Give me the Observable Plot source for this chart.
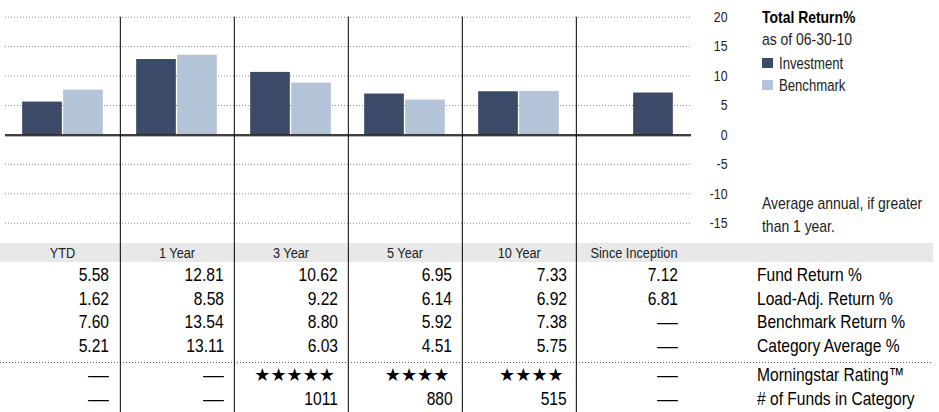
<!DOCTYPE html>
<html>
<head>
<meta charset="utf-8">
<script src="https://cdn.jsdelivr.net/npm/d3@7"></script>
<script src="https://cdn.jsdelivr.net/npm/@observablehq/plot@0.6"></script>
<style>
  body { margin: 0; background: #fff; }
  #wrap { position: relative; width: 939px; height: 412px; overflow: hidden;
          font-family: "Liberation Sans", Arial, sans-serif; color: #000; }
  #wrap .abs { position: absolute; white-space: nowrap; }
  #wrap .abs span { display: inline-block; transform: scaleX(0.82); }
  #chart { position: absolute; left: 0; top: 0; z-index: 2; }
  #table { position: absolute; left: 0; top: 0; width: 939px; height: 412px; z-index: 1; }
</style>
</head>
<body>
<div id="wrap"><div id="table"></div><div id="chart"></div></div>
<script>
// ---------- data ----------
const periods = ["YTD", "1 Year", "3 Year", "5 Year", "10 Year", "Since Inception"];
const fundReturn = [5.58, 12.81, 10.62, 6.95, 7.33, 7.12];
const loadAdjReturn = [1.62, 8.58, 9.22, 6.14, 6.92, 6.81];
const benchmarkReturn = [7.60, 13.54, 8.80, 5.92, 7.38, null];
const categoryAverage = [5.21, 13.11, 6.03, 4.51, 5.75, null];
const ratingStars = [null, null, 5, 4, 4, null];
const fundsInCategory = [null, null, 1011, 880, 515, null];
const rowLabels = ["Fund Return %", "Load-Adj. Return %", "Benchmark Return %", "Category Average %", "Morningstar Rating™", "# of Funds in Category"];
const seriesNames = ["Investment", "Benchmark"];
const seriesColors = ["#3b4a67", "#b3c3d8"];
const yTicks = [-15, -10, -5, 0, 5, 10, 15, 20];
const chartTitle = "Total Return%";
const asOf = "as of 06-30-10";
const footNote = ["Average annual, if greater", "than 1 year."];

// ---------- layout ----------
const W = 939, H = 412;
const xLeft = 5, xRight = 691;
const yTopPx = 16.7, yBotPx = 222.7;
const yMin = -15, yMax = 20;
const bw = (xRight - xLeft) / periods.length;
const pxPerUnit = (yBotPx - yTopPx) / (yMax - yMin);
const yBottomValue = yMin - (H - yBotPx) / pxPerUnit;
const NARROW = 0.82;

// bar records (slot 0 = left of centre, slot 1 = right of centre)
const bars = [];
periods.forEach((p, i) => {
  const hasBench = benchmarkReturn[i] != null;
  bars.push({period: p, series: "Investment", value: fundReturn[i], slot: hasBench ? 0 : 1});
  if (hasBench) bars.push({period: p, series: "Benchmark", value: benchmarkReturn[i], slot: 1});
});
const slotInsets = [
  {insetLeft: bw / 2 - 41, insetRight: bw / 2 + 1},
  {insetLeft: bw / 2, insetRight: bw / 2 - 40}
];

const chart = Plot.plot({
  width: W, height: H,
  marginLeft: xLeft, marginRight: W - xRight, marginTop: 0, marginBottom: 0,
  style: {background: "transparent", overflow: "visible", fontFamily: '"Liberation Sans", Arial, sans-serif'},
  x: {domain: periods, range: [xLeft, xRight], padding: 0, axis: null},
  y: {domain: [yMin, yMax], range: [yBotPx, yTopPx], axis: null},
  color: {domain: seriesNames, range: seriesColors},
  marks: [
    Plot.ruleY(yTicks.filter(d => d !== 0), {y: d => d, stroke: "#8a8a8a", strokeDasharray: "1,2"}),
    ...slotInsets.map((ins, s) => Plot.barY(bars.filter(d => d.slot === s), {
      x: "period", y: "value", fill: "series", ...ins
    })),
    Plot.ruleY([0], {y: d => d, stroke: "#b0b0b0", strokeWidth: 1, dy: 1.5}),
    Plot.ruleY([0], {y: d => d, stroke: "#000", strokeWidth: 1.5}),
    Plot.ruleX(periods.slice(1), {x: d => d, dx: -bw / 2, y1: yMax, y2: yBottomValue, stroke: "#000", strokeWidth: 1}),
    Plot.text(yTicks, {y: d => d, text: d => String(d), frameAnchor: "right", dx: 36, textAnchor: "end",
                       fontSize: 15, fill: "#222"})
  ]
});
document.getElementById("chart").appendChild(chart);
// condense the tick labels (no narrow font installed): scale the group about the labels' right edge
{
  const g = chart.querySelector('g[aria-label="text"]');
  if (g) {
    const bb = g.getBBox();
    const ax = bb.x + bb.width;
    const inner = document.createElementNS("http://www.w3.org/2000/svg", "g");
    while (g.firstChild) inner.appendChild(g.firstChild);
    g.appendChild(inner);
    inner.setAttribute("transform", `translate(${ax},0) scale(${NARROW},1) translate(${-ax},0)`);
  }
}

// ---------- legend / notes ----------
const T = document.getElementById("table");
function addText(txt, left, cy, size, opts = {}) {
  const lh = opts.lh || Math.round(size * 1.3);
  const d = document.createElement("div");
  d.className = "abs";
  const s = document.createElement("span");
  s.textContent = txt;
  d.appendChild(s);
  const align = opts.align || "left";
  s.style.transformOrigin = align === "right" ? "100% 50%" : align === "center" ? "50% 50%" : "0 50%";
  d.style.left = left + "px";
  d.style.top = (cy - lh / 2) + "px";
  d.style.fontSize = size + "px";
  d.style.lineHeight = lh + "px";
  if (opts.width != null) { d.style.width = opts.width + "px"; d.style.textAlign = align; }
  if (opts.bold) d.style.fontWeight = "bold";
  if (opts.color) d.style.color = opts.color;
  T.appendChild(d);
  return d;
}
function addBox(left, top, w, h, bg) {
  const d = document.createElement("div");
  d.className = "abs";
  Object.assign(d.style, {left: left + "px", top: top + "px", width: w + "px", height: h + "px", background: bg});
  T.appendChild(d);
  return d;
}
const legX = 762;
addText(chartTitle, legX, 18, 17, {bold: true});
addText(asOf, legX, 40, 17, {color: "#222"});
seriesNames.forEach((s, i) => {
  const cy = 63 + i * 22;
  addBox(legX, cy - 5, 11, 10, seriesColors[i]);
  addText(s, 779, cy, 16, {color: "#222"});
});
addText(footNote[0], legX, 204, 17, {color: "#222"});
addText(footNote[1], legX, 227, 17, {color: "#222"});

// ---------- table ----------
addBox(0, 243, 933, 19, "#e8e8e8");
periods.forEach((p, i) => addText(p, xLeft + i * bw, 252.5, 15.5, {width: bw, align: "center", lh: 19, color: "#222"}));

const fmt2 = v => v == null ? "—" : v.toFixed(2);
const rows = [
  fundReturn.map(fmt2),
  loadAdjReturn.map(fmt2),
  benchmarkReturn.map(fmt2),
  categoryAverage.map(fmt2),
  ratingStars.map(v => v == null ? "—" : "★".repeat(v)),
  fundsInCategory.map(v => v == null ? "—" : String(v))
];
const rowCenters = [275, 298.6, 322.2, 345.8, 375, 398.6];
rows.forEach((vals, r) => {
  vals.forEach((v, i) => {
    const pad = i === periods.length - 1 ? 13 : 10;
    const isStar = r === 4 && v !== "—";
    const el = addText(v, xLeft + i * bw, rowCenters[r], 19, {width: bw - pad, align: "right", lh: 24});
    if (isStar) { el.firstChild.style.transform = "none"; el.style.fontFamily = '"DejaVu Sans", sans-serif'; el.style.fontSize = "18px"; el.style.width = (bw - 13) + "px"; }
    else if (v === "—") { el.firstChild.style.transform = "scaleX(1.1)"; }
  });
  addText(rowLabels[r], 757, rowCenters[r], 19, {lh: 24});
});
const dots = addBox(0, 361.5, 933, 1, "transparent");
dots.style.background = "repeating-linear-gradient(to right, #555 0 1px, transparent 1px 3px)";
</script>
</body>
</html>
